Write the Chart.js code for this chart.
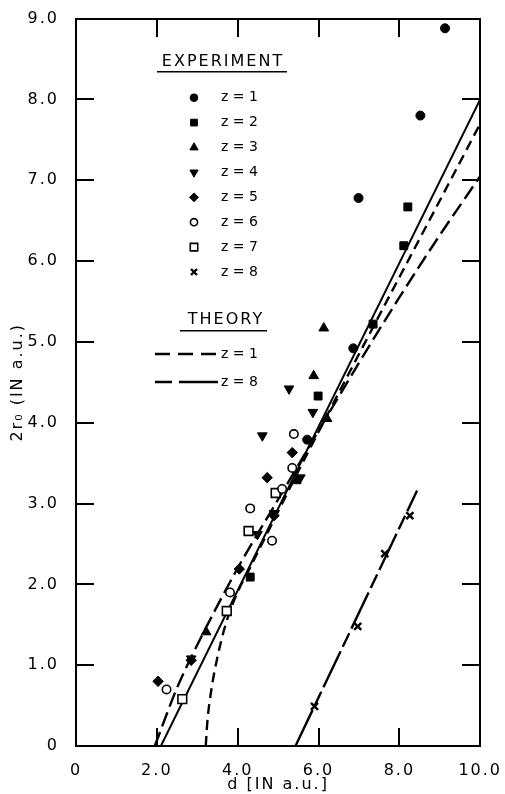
<!DOCTYPE html>
<html>
<head>
<meta charset="utf-8">
<script src="https://cdn.jsdelivr.net/npm/chart.js@4.4.1/dist/chart.umd.min.js"></script>
<style>
  html, body { margin: 0; padding: 0; background: #fff; }
</style>
</head>
<body>
<canvas id="chart" width="505" height="794"></canvas>
<script>
// axis ticks
const xTickValues = [0, 2, 4, 6, 8, 10];
const xTickLabels = ['0', '2.0', '4.0', '6.0', '8.0', '10.0'];
const yTickValues = [0, 1, 2, 3, 4, 5, 6, 7, 8, 9];
const yTickLabels = ['0', '1.0', '2.0', '3.0', '4.0', '5.0', '6.0', '7.0', '8.0', '9.0'];

// experiment, d and 2r0 for each z
const z1D = [9.13, 8.52, 6.99, 6.86, 5.72];
const z1R = [8.88, 7.80, 6.78, 4.92, 3.79];
const z2D = [8.21, 8.11, 7.35, 5.99, 4.31];
const z2R = [6.67, 6.19, 5.22, 4.33, 2.09];
const z3D = [6.13, 5.88, 6.21, 5.45, 3.22];
const z3R = [5.17, 4.58, 4.05, 3.28, 1.41];
const z4D = [5.27, 5.86, 4.61, 5.55, 4.49, 4.90, 2.85];
const z4R = [4.42, 4.13, 3.84, 3.32, 2.62, 2.88, 1.08];
const z5D = [5.35, 4.73, 4.90, 4.04, 2.85, 2.03];
const z5R = [3.63, 3.32, 2.85, 2.19, 1.06, 0.80];
const z6D = [5.39, 5.35, 5.10, 4.31, 4.85, 3.81, 2.24];
const z6R = [3.86, 3.44, 3.18, 2.94, 2.54, 1.90, 0.70];
const z7D = [4.94, 4.27, 3.73, 2.63];
const z7R = [3.13, 2.66, 1.67, 0.58];
const z8D = [5.90, 6.97, 7.64, 8.26];
const z8R = [0.49, 1.48, 2.38, 2.85];

// curves
const fitD = [2.1, 10];
const fitR = [0, 8.0];
const th1D = [3.21, 3.25, 3.35, 3.5, 3.7, 3.95, 4.3, 4.8, 5.5, 10];
const th1R = [0, 0.3, 0.7, 1.1, 1.5, 1.85, 2.2, 2.7, 3.4, 7.7];
const thUD = [1.95, 2.5, 3.0, 4.0, 5.0, 6.0, 7.0, 8.0, 9.0, 10];
const thUR = [0, 0.72, 1.25, 2.2, 3.05, 3.9, 4.74, 5.55, 6.32, 7.05];
const th8D = [5.43, 8.44];
const th8R = [0, 3.16];

const zip = (d, r) => d.map((v, i) => ({x: v, y: r[i]}));

function expSet(label, d, r, style, radius, fill, rotation) {
  return {
    label: label,
    data: zip(d, r),
    showLine: false,
    pointStyle: style,
    pointRadius: radius,
    pointRotation: rotation || 0,
    pointBackgroundColor: fill,
    pointBorderColor: '#000',
    pointBorderWidth: fill === '#fff' ? 1.6 : 1,
    order: 0
  };
}

function lineSet(label, d, r, dash, width) {
  return {
    label: label,
    data: zip(d, r),
    showLine: true,
    pointRadius: 0,
    borderColor: '#000',
    borderWidth: width,
    borderDash: dash,
    cubicInterpolationMode: 'monotone',
    order: 1
  };
}

const expSets = [
  expSet('z = 1', z1D, z1R, 'circle', 4.5, '#000'),
  expSet('z = 2', z2D, z2R, 'rect', 5.6, '#000'),
  expSet('z = 3', z3D, z3R, 'triangle', 5.6, '#000'),
  expSet('z = 4', z4D, z4R, 'triangle', 5.6, '#000', 180),
  expSet('z = 5', z5D, z5R, 'rectRot', 5.2, '#000'),
  expSet('z = 6', z6D, z6R, 'circle', 4.2, '#fff'),
  expSet('z = 7', z7D, z7R, 'rect', 6.2, '#fff'),
  expSet('z = 8', z8D, z8R, 'crossRot', 5, '#000')
];
expSets[7].pointBorderWidth = 2.4;

const lineSets = [
  lineSet('fit', fitD, fitR, [], 2),
  lineSet('theory z = 1', th1D, th1R, [10, 6], 2.4),
  lineSet('theory upper', thUD, thUR, [15, 6], 2.4),
  lineSet('theory z = 8', th8D, th8R, [40, 5, 15, 5], 2.4)
];

const frameAndLegend = {
  id: 'frameAndLegend',
  beforeDraw(chart) {
    chart.ctx.letterSpacing = '2px';
  },
  afterDraw(chart) {
    const ctx = chart.ctx;
    const a = chart.chartArea;
    const xs = chart.scales.x;
    const ys = chart.scales.y;
    ctx.save();
    ctx.setLineDash([]);
    ctx.strokeStyle = '#000';
    ctx.fillStyle = '#000';

    // frame and inward ticks on all four sides
    const L = Math.round(a.left), R = Math.round(a.right);
    const T = Math.round(a.top), B = Math.round(a.bottom);
    ctx.fillRect(L - 1, T - 1, R - L + 2, 2);
    ctx.fillRect(L - 1, B - 1, R - L + 2, 2);
    ctx.fillRect(L - 1, T - 1, 2, B - T + 2);
    ctx.fillRect(R - 1, T - 1, 2, B - T + 2);
    xTickValues.slice(1, -1).forEach(v => {
      const px = Math.round(xs.getPixelForValue(v));
      ctx.fillRect(px - 1, B - 18, 2, 18);
      ctx.fillRect(px - 1, T, 2, 18);
    });
    yTickValues.slice(1, -1).forEach(v => {
      const py = Math.round(ys.getPixelForValue(v));
      ctx.fillRect(L, py - 1, 18, 2);
      ctx.fillRect(R - 18, py - 1, 18, 2);
    });

    // legend headings
    ctx.textBaseline = 'middle';
    ctx.textAlign = 'center';
    ctx.font = '16px "DejaVu Sans"';
    ctx.letterSpacing = '2px';
    ctx.fillText('EXPERIMENT', 223, 62);
    ctx.fillText('THEORY', 226, 320);
    ctx.fillRect(157, 71, 130, 1.5);
    ctx.fillRect(180, 330, 87, 1.5);

    // experiment symbols
    ctx.font = '14px "DejaVu Sans"';
    ctx.letterSpacing = '0px';
    ctx.textAlign = 'left';
    expSets.forEach((ds, i) => {
      const ly = 97.7 + 24.9 * i;
      ctx.fillStyle = ds.pointBackgroundColor;
      ctx.strokeStyle = '#000';
      ctx.lineWidth = ds.pointBorderWidth;
      Chart.helpers.drawPoint(ctx, {
        pointStyle: ds.pointStyle,
        radius: ds.pointRadius * 0.85,
        rotation: ds.pointRotation,
        borderWidth: ds.pointBorderWidth
      }, 194, ly);
      ctx.fillStyle = '#000';
      ctx.fillText(ds.label, 221, ly);
    });

    // theory lines
    ctx.lineWidth = 2.4;
    ctx.setLineDash([15, 8]);
    ctx.beginPath();
    ctx.moveTo(155, 354); ctx.lineTo(217, 354);
    ctx.stroke();
    ctx.setLineDash([]);
    ctx.beginPath();
    ctx.moveTo(155, 382); ctx.lineTo(172, 382);
    ctx.moveTo(179, 382); ctx.lineTo(218, 382);
    ctx.stroke();
    ctx.fillText('z = 1', 221, 354);
    ctx.fillText('z = 8', 221, 382);
    ctx.restore();
  }
};

new Chart(document.getElementById('chart'), {
  type: 'scatter',
  data: { datasets: expSets.concat(lineSets) },
  options: {
    responsive: false,
    animation: false,
    layout: { padding: { left: 0, right: 22, top: 15, bottom: 0 } },
    plugins: { legend: { display: false }, tooltip: { enabled: false } },
    scales: {
      x: {
        type: 'linear',
        min: 0, max: 10,
        afterFit: s => { s.height = 48; },
        grid: { display: false },
        border: { display: false },
        ticks: {
          stepSize: 2,
          autoSkip: false,
          maxRotation: 0,
          padding: 7,
          color: '#000',
          font: { family: 'DejaVu Sans', size: 16 },
          callback: v => xTickLabels[xTickValues.indexOf(v)]
        },
        title: {
          display: true,
          text: 'd [IN a.u.]',
          color: '#000',
          font: { family: 'DejaVu Sans', size: 16 },
          padding: { top: 0, bottom: 0 }
        }
      },
      y: {
        type: 'linear',
        min: 0, max: 9,
        afterFit: s => { s.width = 76; },
        grid: { display: false },
        border: { display: false },
        ticks: {
          stepSize: 1,
          autoSkip: false,
          padding: 9,
          color: '#000',
          font: { family: 'DejaVu Sans', size: 16 },
          callback: v => yTickLabels[yTickValues.indexOf(v)]
        },
        title: {
          display: true,
          text: '2r₀ (IN a.u.)',
          color: '#000',
          font: { family: 'DejaVu Sans', size: 16 },
          padding: { top: 8, bottom: 0 }
        }
      }
    }
  },
  plugins: [frameAndLegend]
});
</script>
</body>
</html>
